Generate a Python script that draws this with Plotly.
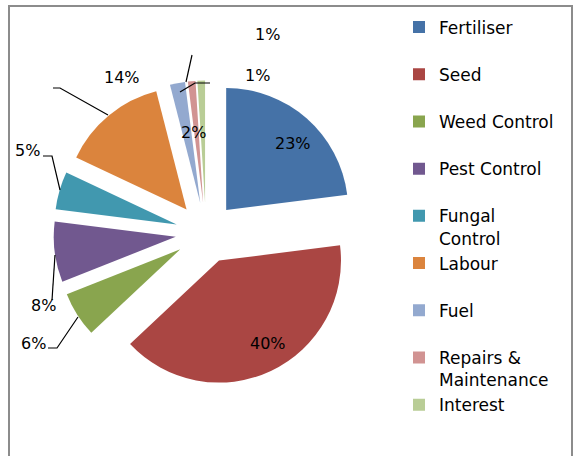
import plotly.graph_objects as go

# ---- data ----
categories = ["Fertiliser", "Seed", "Weed Control", "Pest Control", "Fungal Control",
              "Labour", "Fuel", "Repairs & Maintenance", "Interest"]
legend_text = ["Fertiliser", "Seed", "Weed Control", "Pest Control", "Fungal<br>Control",
               "Labour", "Fuel", "Repairs &<br>Maintenance", "Interest"]
percent_values = [23, 40, 6, 8, 5, 14, 2, 1, 1]

# ---- styles / layout ----
colors = ["#4572A7", "#AA4643", "#89A54E", "#71588F", "#4198AF",
          "#DB843D", "#93A9CF", "#D19392", "#B9CD96"]
W, H = 577, 456
FONT = "DejaVu Sans"

def px(x):
    return x / W

def py(y):
    return 1 - y / H

# pie box in pixels (centre 206,233)
cx, cy, half = 206, 233, 152.5

# pad single-line legend entries to two lines so that entries are evenly spaced
legend_labels = [t if "<br>" in t else t + "<br> " for t in legend_text]

fig = go.Figure(go.Pie(
    labels=legend_labels,
    values=percent_values,
    sort=False,
    direction="clockwise",
    rotation=0,
    pull=[0.25] * len(percent_values),
    marker=dict(colors=colors, line=dict(width=0)),
    textinfo="none",
    hoverinfo="label+percent",
    domain=dict(x=[px(cx - half), px(cx + half)], y=[py(cy + half), py(cy - half)]),
))

# data label positions (pixels) and leader lines
label_pos = [(293, 143), (268, 343), (33, 343), (43, 305), (27, 150),
             (122, 78), (193, 132), (257, 75), (267, 35)]
# order: Fertiliser, Seed, Weed, Pest, Fungal, Labour, Fuel, Interest(lower 1%), Repairs(upper 1%)
label_vals = [percent_values[0], percent_values[1], percent_values[2], percent_values[3],
              percent_values[4], percent_values[5], percent_values[6], percent_values[8],
              percent_values[7]]
annotations = []
for (x, y), v in zip(label_pos, label_vals):
    annotations.append(dict(x=px(x), y=py(y), xref="paper", yref="paper", text=f"{v}%",
                            showarrow=False, font=dict(family=FONT, size=16, color="#000"),
                            xanchor="center", yanchor="middle"))

leaders = [
    [(48, 348), (57, 348), (78, 317)],          # 6%
    [(52, 300), (55, 255)],                     # 8%
    [(43, 156), (52, 156), (60, 190)],          # 5%
    [(53, 88), (60, 88), (108, 115)],           # 14%
    [(192, 55), (186, 82)],                     # 1% upper
    [(180, 92), (195, 83), (210, 83)],          # 1% lower
]
# outer chart border: left, top, right (bottom edge is cut off in the reference)
border_pts = [(9, 470), (9, 6), (572, 6), (572, 470)]

shapes = []
for pts in leaders:
    path = "M " + " L ".join(f"{px(x)},{py(y)}" for x, y in pts)
    shapes.append(dict(type="path", path=path, xref="paper", yref="paper",
                       line=dict(color="#000", width=1.2)))
shapes.append(dict(type="path", xref="paper", yref="paper",
                   path="M " + " L ".join(f"{px(x)},{py(y)}" for x, y in border_pts),
                   line=dict(color="#8c8c8c", width=2)))

fig.update_layout(
    width=W, height=H,
    margin=dict(l=0, r=0, t=0, b=0),
    paper_bgcolor="white",
    plot_bgcolor="white",
    font=dict(family=FONT, size=16, color="#000"),
    showlegend=True,
    legend=dict(x=px(399), y=py(9.5), xanchor="left", yanchor="top",
                valign="top", font=dict(family=FONT, size=17, color="#000"),
                bgcolor="rgba(0,0,0,0)", borderwidth=0, traceorder="normal"),
    annotations=annotations,
    shapes=shapes,
)

fig.write_html(
    "out.html",
    config={"displayModeBar": False},
    post_script="document.body.style.margin='0';document.body.style.overflow='hidden';",
)
